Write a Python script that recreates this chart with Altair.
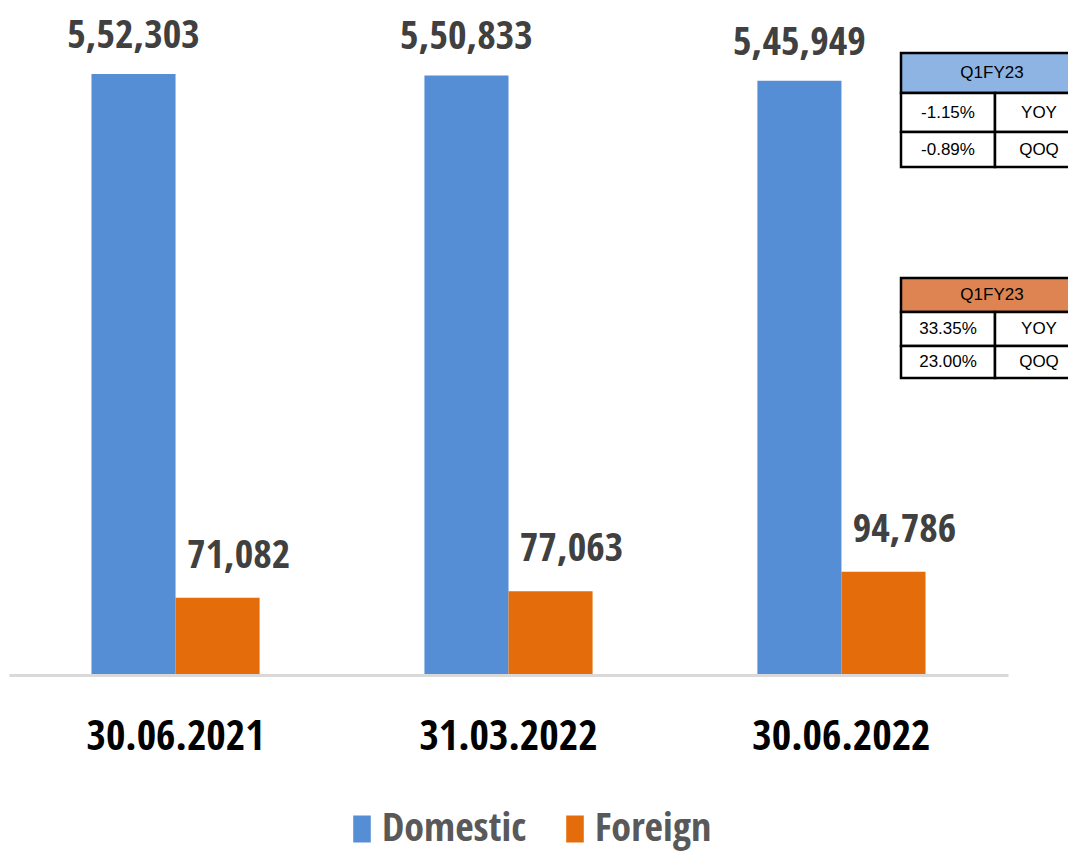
import altair as alt
import pandas as pd

# ---------------- data ----------------
dates = ["30.06.2021", "31.03.2022", "30.06.2022"]
domestic = [552303, 550833, 545949]
foreign = [71082, 77063, 94786]
series_names = ["Domestic", "Foreign"]
series_colors = ["#558ED5", "#E46C0A"]

table_title = "Q1FY23"
table_header_colors = ["#8DB4E2", "#DD8452"]
domestic_changes = ["-1.15%", "-0.89%"]
foreign_changes = ["33.35%", "23.00%"]
change_labels = ["YOY", "QOQ"]


def indian(n):
    s = str(n)
    if len(s) <= 3:
        return s
    last3, rest = s[-3:], s[:-3]
    groups = []
    while len(rest) > 2:
        groups.insert(0, rest[-2:])
        rest = rest[:-2]
    if rest:
        groups.insert(0, rest)
    return ",".join(groups + [last3])


rows = []
for d, dv, fv in zip(dates, domestic, foreign):
    rows.append({"date": d, "series": series_names[0], "value": dv, "label": indian(dv)})
    rows.append({"date": d, "series": series_names[1], "value": fv, "label": indian(fv)})
df = pd.DataFrame(rows)

# ---------------- layout ----------------
W, H = 999, 665
FONT = "Open Sans Condensed, Liberation Sans, sans-serif"
TFONT = "Liberation Sans, Arial, sans-serif"
TL, TD, TR = 892, 986, 1074
table_rows = [[43, 83, 122, 157], [268, 302, 336, 368]]
table_values = [domestic_changes, foreign_changes]

cells, texts = [], []
for t in range(2):
    r = table_rows[t]
    cells.append({"x": TL, "x2": TR, "y": r[0], "y2": r[1], "fill": table_header_colors[t]})
    texts.append({"x": (TL + TR) / 2, "y": (r[0] + r[1]) / 2, "text": table_title})
    for i in range(2):
        cells.append({"x": TL, "x2": TD, "y": r[i + 1], "y2": r[i + 2], "fill": "#FFFFFF"})
        cells.append({"x": TD, "x2": TR, "y": r[i + 1], "y2": r[i + 2], "fill": "#FFFFFF"})
        texts.append({"x": (TL + TD) / 2, "y": (r[i + 1] + r[i + 2]) / 2, "text": table_values[t][i]})
        texts.append({"x": (TD + TR) / 2, "y": (r[i + 1] + r[i + 2]) / 2, "text": change_labels[i]})
cells_df = pd.DataFrame(cells)
texts_df = pd.DataFrame(texts)

# ---------------- chart ----------------
x_enc = alt.X(
    "date:N",
    sort=dates,
    scale=alt.Scale(paddingInner=0.495, paddingOuter=0.2477),
    axis=alt.Axis(
        title=None,
        labelAngle=0,
        labelFont=FONT,
        labelFontSize=42,
        labelFontWeight="bold",
        labelColor="#000000",
        labelPadding=41,
        labelLimit=0,
        ticks=False,
        domainColor="#D9D9D9",
        domainWidth=3,
        zindex=1,
    ),
)
xoff = alt.XOffset("series:N", sort=series_names, scale=alt.Scale(paddingInner=0, paddingOuter=0))
y_enc = alt.Y("value:Q", scale=alt.Scale(domain=[0, 611000], nice=False, zero=True), axis=None)

base = alt.Chart(df)

bars = base.mark_bar().encode(
    x=x_enc,
    xOffset=xoff,
    y=y_enc,
    color=alt.Color(
        "series:N",
        scale=alt.Scale(domain=series_names, range=series_colors),
        legend=alt.Legend(
            title=None,
            orient="none",
            legendX=333,
            legendY=799,
            direction="horizontal",
            labelFont=FONT,
            labelFontSize=40,
            labelFontWeight="bold",
            labelColor="#595959",
            labelLimit=400,
            labelOffset=0,
            columnPadding=29,
            symbolType="M-0.65,-1V1H0.65V-1Z",
            symbolSize=729,
            symbolStrokeWidth=0,
            symbolOpacity=1,
        ),
    ),
)

label_style = dict(font=FONT, fontSize=40, fontWeight="bold", color="#404040", baseline="alphabetic")
dom_text = base.transform_filter(alt.datum.series == series_names[0]).mark_text(dy=-26, **label_style).encode(
    x=x_enc, xOffset=xoff, y=y_enc, text="label:N"
)
for_text = base.transform_filter(alt.datum.series == series_names[1]).mark_text(dy=-30, dx=21, **label_style).encode(
    x=x_enc, xOffset=xoff, y=y_enc, text="label:N"
)

table_rects = alt.Chart(cells_df).mark_rect(stroke="#000000", strokeWidth=2.5).encode(
    x=alt.X("x:Q", scale=None, axis=None),
    x2="x2:Q",
    y=alt.Y("y:Q", scale=None, axis=None),
    y2="y2:Q",
    fill=alt.Fill("fill:N", scale=None, legend=None),
)
table_text = alt.Chart(texts_df).mark_text(
    font=TFONT, fontSize=17, color="#000000", baseline="middle", align="center"
).encode(
    x=alt.X("x:Q", scale=None, axis=None),
    y=alt.Y("y:Q", scale=None, axis=None),
    text="text:N",
)

main = alt.layer(bars, dom_text, for_text)
tables = alt.layer(table_rects, table_text)

chart = (
    alt.layer(main, tables)
    .resolve_scale(x="independent", y="independent")
    .properties(
        width=W,
        height=H,
        padding={"left": 1, "top": 2, "right": 60, "bottom": 184},
        autosize=alt.AutoSizeParams(type="none"),
    )
    .configure_view(stroke=None)
)

chart.save("out.html", embed_options={"renderer": "svg", "actions": False})
